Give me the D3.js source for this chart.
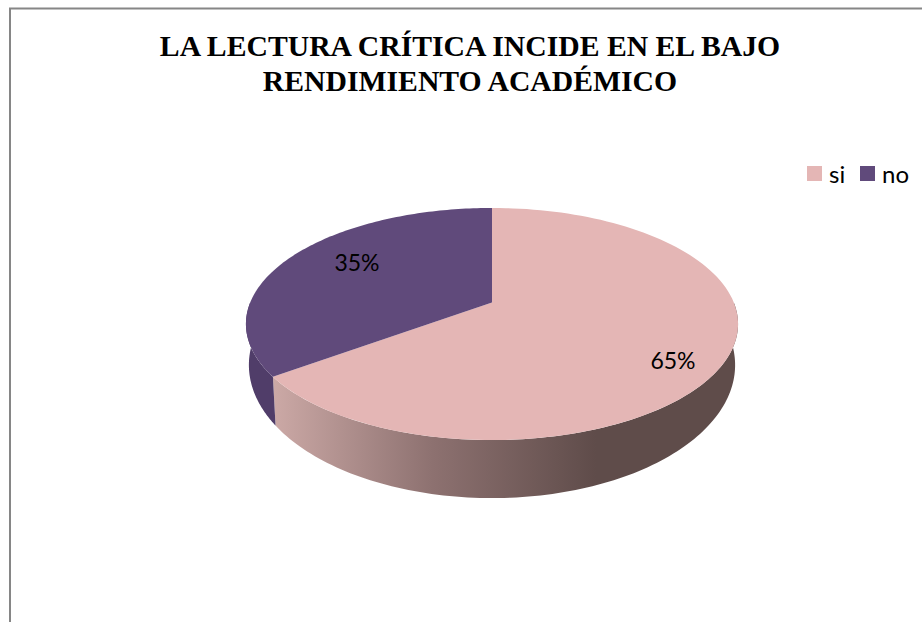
<!DOCTYPE html>
<html>
<head>
<meta charset="utf-8">
<script src="https://cdn.jsdelivr.net/npm/d3@7"></script>
<style>html,body{margin:0;padding:0;background:#fff;overflow:hidden}svg{display:block}</style>
</head>
<body>
<svg id="chart" width="922" height="622"></svg>
<script>
const categories = ["si", "no"];
const values = [65, 35];
const valueLabels = ["65%", "35%"];
const titleLines = ["LA LECTURA CRÍTICA INCIDE EN EL BAJO", "RENDIMIENTO ACADÉMICO"];
const topColors = ["#e4b6b5", "#604a7b"];
const sideColors = ["url(#sideSi)", "#503d69"];
const sideStops = [[0, "#cdaaa7"], [0.5, "#8d7170"], [1, "#5f4c4a"]];

const svg = d3.select("#chart");

// frame: only top and left edges are visible
svg.append("path").attr("d", "M10 622V8.5H922").attr("fill", "none").attr("stroke", "#868686").attr("stroke-width", 2);

// title
svg.append("g").selectAll("text").data(titleLines).join("text")
  .attr("x", 470).attr("y", (d, i) => 56 + i * 34.5)
  .attr("text-anchor", "middle")
  .attr("font-family", "'Liberation Serif', serif")
  .attr("font-weight", "bold").attr("font-size", 29.7).attr("fill", "#000")
  .text(d => d);

// perspective mapping of the disc
const cx = 492, cy = 324, hw = 242;
const persp = -0.181, yA = 57.4, yB = 302.5;
const bottomCy = 365, bottomSx = 0.988, bottomSy = 1.147;
const project = (angle, bottom) => {
  const u = Math.sin(angle), v = -Math.cos(angle);
  const w = 1 + persp * v;
  const x = hw * u / w, y = (yA * v + 303) / w - cy;
  return bottom ? [cx + x * bottomSx, bottomCy + y * bottomSy] : [cx + x, cy + y];
};
const samples = (a, b) => d3.range(0, 121).map(i => a + (b - a) * i / 120);
const line = d3.line();

const defs = svg.append("defs");
const grad = defs.append("linearGradient").attr("id", "sideSi")
  .attr("gradientUnits", "userSpaceOnUse")
  .attr("x1", 270).attr("x2", 596).attr("y1", 0).attr("y2", 0);
grad.selectAll("stop").data(sideStops).join("stop")
  .attr("offset", d => d[0]).attr("stop-color", d => d[1]);

const pie = d3.pie().sort(null).value(d => d);
const arcs = pie(values);

// sides: only the front half of the rim (quarter to three-quarter turn) faces the viewer
svg.append("g").selectAll("path").data(arcs).join("path")
  .attr("fill", (d, i) => sideColors[i])
  .attr("d", d => {
    const a = Math.max(d.startAngle, Math.PI / 2), b = Math.min(d.endAngle, 3 * Math.PI / 2);
    const t = samples(a, b);
    return line([...t.map(q => project(q, false)), ...t.reverse().map(q => project(q, true))]) + "Z";
  });

// top faces
svg.append("g").selectAll("path").data(arcs).join("path")
  .attr("fill", (d, i) => topColors[i])
  .attr("d", d => {
    const t = samples(d.startAngle, d.endAngle);
    return line([[cx, yB], ...t.map(a => project(a, false))]) + "Z";
  });

// data labels
svg.append("g").selectAll("text").data(arcs).join("text")
  .attr("x", (d, i) => [673, 357][i])
  .attr("y", (d, i) => [369, 271][i])
  .attr("text-anchor", "middle")
  .attr("font-family", "Lato, 'Open Sans', sans-serif")
  .attr("font-size", 23).attr("fill", "#000")
  .text((d, i) => valueLabels[i]);

// legend
const legendX = d3.scaleOrdinal().domain(categories).range([807, 860]);
const legend = svg.append("g").selectAll("g").data(categories).join("g")
  .attr("transform", d => `translate(${legendX(d)},166)`);
legend.append("rect").attr("width", 15).attr("height", 15).attr("fill", (d, i) => topColors[i]);
legend.append("text").attr("x", 22).attr("y", 17)
  .attr("font-family", "Lato, 'Open Sans', sans-serif")
  .attr("font-size", 24).attr("fill", "#000").text(d => d);
</script>
</body>
</html>
